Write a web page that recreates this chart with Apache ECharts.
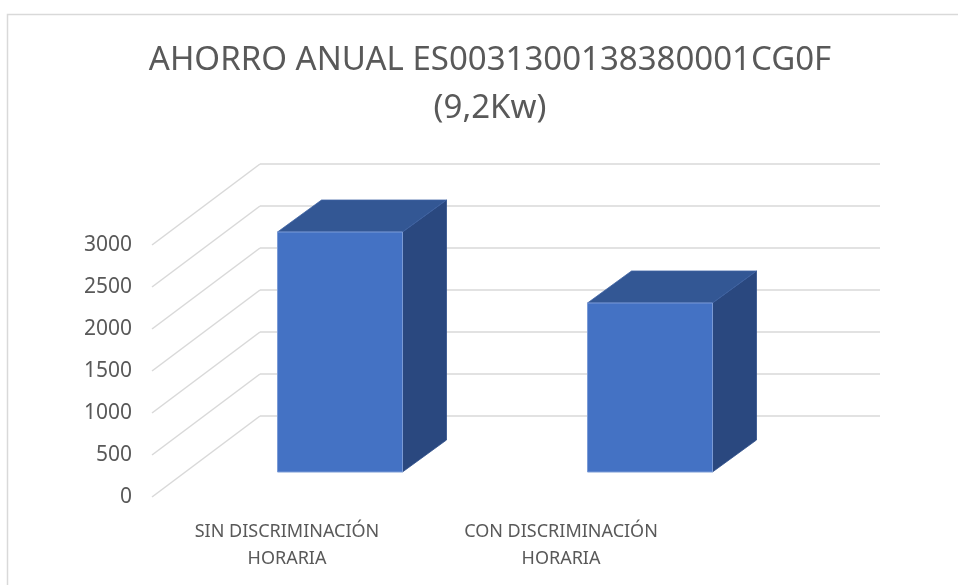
<!DOCTYPE html>
<html>
<head>
<meta charset="utf-8">
<script src="https://cdn.jsdelivr.net/npm/echarts@6/dist/echarts.min.js"></script>
<style>html,body{margin:0;padding:0;background:#fff}#c{width:958px;height:585px}</style>
</head>
<body>
<div id="c"></div>
<script>
const titleText = 'AHORRO ANUAL ES0031300138380001CG0F\n(9,2Kw)';
const categories = ['SIN DISCRIMINACIÓN\nHORARIA', 'CON DISCRIMINACIÓN\nHORARIA'];
const values = [2857, 2012];
const yTicks = [0, 500, 1000, 1500, 2000, 2500, 3000];

const chart = echarts.init(document.getElementById('c'), null, {renderer: 'canvas'});
const FONT = 'Noto Sans';
const GRID = '#D9D9D9';
const TXT = '#595959';
const WALL = [-108, 81];
const FRONT = [-75, 56];
const BACK = [-31, 24];

chart.setOption({
  animation: false,
  backgroundColor: '#fff',
  graphic: [{
    type: 'rect', z: -10,
    shape: {x: 7.5, y: 14.5, width: 1000, height: 600},
    style: {fill: 'none', stroke: GRID, lineWidth: 1.5}
  }],
  title: {
    text: titleText, left: 485, top: 31, textAlign: 'center',
    textStyle: {fontFamily: FONT, fontSize: 33, fontWeight: 'normal', color: TXT, lineHeight: 48.5}
  },
  grid: [
    {left: 260, top: 164, width: 620, height: 252},
    {left: 150, top: 245, width: 548, height: 252}
  ],
  xAxis: [
    {type: 'category', gridIndex: 0, data: categories, show: false},
    {type: 'category', gridIndex: 1, data: categories,
     axisLine: {show: false}, axisTick: {show: false}, splitLine: {show: false},
     axisLabel: {fontFamily: FONT, fontSize: 18, color: TXT, margin: 21, lineHeight: 27, interval: 0}}
  ],
  yAxis: [
    {type: 'value', gridIndex: 0, min: 0, max: 3000, interval: 500,
     axisLabel: {show: false}, axisLine: {show: false}, axisTick: {show: false},
     splitLine: {lineStyle: {color: GRID, width: 1.5}}},
    {type: 'value', gridIndex: 1, min: 0, max: 3000, interval: 500,
     axisLine: {show: false}, axisTick: {show: false}, splitLine: {show: false},
     axisLabel: {fontFamily: FONT, fontSize: 21, color: TXT, margin: 18, formatter: v => String(v)}}
  ],
  series: [
    {
      type: 'custom', xAxisIndex: 0, yAxisIndex: 0, silent: true,
      data: yTicks.map(v => [0, v]),
      renderItem: function (params, api) {
        const p = api.coord([0, api.value(1)]);
        const x0 = params.coordSys.x;
        return {type: 'line', shape: {x1: x0, y1: p[1], x2: x0 + WALL[0], y2: p[1] + WALL[1]},
                style: {stroke: GRID, lineWidth: 1.5}};
      }
    },
    {
      type: 'custom', xAxisIndex: 0, yAxisIndex: 0,
      data: values.map((v, i) => [i, v]),
      renderItem: function (params, api) {
        const c = api.coord([api.value(0), api.value(1)]);
        const b = api.coord([api.value(0), 0]);
        const hw = api.size([1, 0])[0] * 0.2016;
        const fl = c[0] + FRONT[0] - hw, fr = c[0] + FRONT[0] + hw;
        const ft = c[1] + FRONT[1], fb = b[1] + FRONT[1];
        const bl = c[0] + BACK[0] - hw, br = c[0] + BACK[0] + hw;
        const bt = c[1] + BACK[1], bb = b[1] + BACK[1];
        return {type: 'group', children: [
          {type: 'polygon', shape: {points: [[fr, ft], [br, bt], [br, bb], [fr, fb]]},
           style: {fill: '#2A487F', stroke: '#2E4F8A', lineWidth: 0.8}},
          {type: 'polygon', shape: {points: [[fl, ft], [fr, ft], [br, bt], [bl, bt]]},
           style: {fill: '#335794', stroke: '#3F63A3', lineWidth: 0.8}},
          {type: 'rect', shape: {x: fl, y: ft, width: fr - fl, height: fb - ft},
           style: {fill: '#4472C4', stroke: '#7B9BD6', lineWidth: 1}}
        ]};
      }
    }
  ]
});
</script>
</body>
</html>
